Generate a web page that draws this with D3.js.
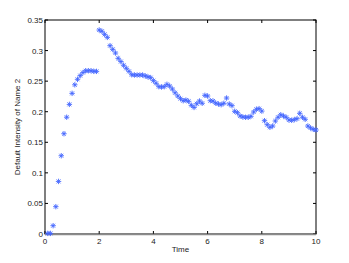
<!DOCTYPE html>
<html><head><meta charset="utf-8">
<script src="https://cdn.jsdelivr.net/npm/d3@7"></script>
<style>body{margin:0;background:#fff}svg{display:block}</style>
</head><body>
<script>
const times = d3.range(1, 101).map(i => i / 10);
const values = [
  0.001, 0.001, 0.0136, 0.0447, 0.086, 0.128, 0.164, 0.191, 0.212, 0.230,
  0.244, 0.253, 0.259, 0.264, 0.267, 0.267, 0.267, 0.266, 0.266,
  0.3336, 0.3316, 0.3265, 0.3216, 0.308, 0.302, 0.296, 0.2873, 0.282, 0.276,
  0.271, 0.266, 0.2605, 0.260, 0.260, 0.260, 0.260, 0.2585, 0.257,
  0.2557, 0.2508, 0.2465, 0.241, 0.2404, 0.241, 0.2448, 0.242, 0.237, 0.231,
  0.2257, 0.2213, 0.218, 0.219, 0.217, 0.2105, 0.207, 0.213, 0.2175, 0.2138,
  0.2268, 0.2257, 0.218, 0.2175, 0.214, 0.2126, 0.2115, 0.2138, 0.2224, 0.2126,
  0.2099, 0.2007, 0.1984, 0.193, 0.1914, 0.1909, 0.1909, 0.1925, 0.1995, 0.204,
  0.205, 0.201, 0.1853, 0.1788, 0.1745, 0.1766, 0.1848, 0.1909, 0.195, 0.193,
  0.1909, 0.1865, 0.186, 0.187, 0.1886, 0.1974, 0.1909, 0.1876, 0.1766, 0.1734,
  0.1712, 0.1701
];
const xTicks = [0, 2, 4, 6, 8, 10];
const yTicks = [0, 0.05, 0.1, 0.15, 0.2, 0.25, 0.3, 0.35];
const xLabel = "Time";
const yLabel = "Default Intensity of Name 2";

const W = 349, H = 263;
const L = 45, R = 316, T = 20, B = 234;
const svg = d3.select("body").append("svg").attr("width", W).attr("height", H);
const x = d3.scaleLinear().domain([0, 10]).range([L, R]);
const y = d3.scaleLinear().domain([0, 0.35]).range([B, T]);
const font = "'Liberation Sans', Arial, sans-serif";

svg.append("rect").attr("x", L).attr("y", T).attr("width", R - L).attr("height", B - T)
  .attr("fill", "none").attr("stroke", "#000").attr("stroke-width", 1);

const tl = 3;
const g = svg.append("g");
xTicks.forEach(v => {
  g.append("line").attr("x1", x(v)).attr("x2", x(v)).attr("y1", B).attr("y2", B - tl).attr("stroke", "#000");
  g.append("line").attr("x1", x(v)).attr("x2", x(v)).attr("y1", T).attr("y2", T + tl).attr("stroke", "#000");
  g.append("text").attr("x", x(v)).attr("y", B + 10).attr("text-anchor", "middle")
    .attr("font-family", font).attr("font-size", 8).attr("fill", "#222").text(v);
});
yTicks.forEach(v => {
  g.append("line").attr("x1", L).attr("x2", L + tl).attr("y1", y(v)).attr("y2", y(v)).attr("stroke", "#000");
  g.append("line").attr("x1", R).attr("x2", R - tl).attr("y1", y(v)).attr("y2", y(v)).attr("stroke", "#000");
  g.append("text").attr("x", L - 2).attr("y", y(v) + 3).attr("text-anchor", "end")
    .attr("font-family", font).attr("font-size", 8).attr("fill", "#222").text(v);
});
svg.append("line").attr("x1", L).attr("x2", R).attr("y1", B + 0.5).attr("y2", B + 0.5)
  .attr("stroke", "#8a8a8a").attr("stroke-width", 1.5);

svg.append("text").attr("x", (L + R) / 2).attr("y", 252).attr("text-anchor", "middle")
  .attr("font-family", font).attr("font-size", 8).attr("fill", "#222").text(xLabel);
svg.append("text").attr("transform", `translate(20,${(T + B) / 2}) rotate(-90)`).attr("text-anchor", "middle")
  .attr("font-family", font).attr("font-size", 8).attr("fill", "#222").text(yLabel);

const s = 2.7, d = s * 0.72;
const star = `M${-s},0L${s},0M0,${-s}L0,${s}M${-d},${-d}L${d},${d}M${-d},${d}L${d},${-d}`;
svg.append("g").selectAll("path").data(times.map((t, i) => [t, values[i]])).join("path")
  .attr("transform", p => `translate(${x(p[0])},${y(p[1])})`)
  .attr("d", star).attr("fill", "none").attr("stroke", "#4466ff").attr("stroke-width", 0.9);
</script>
</body></html>
